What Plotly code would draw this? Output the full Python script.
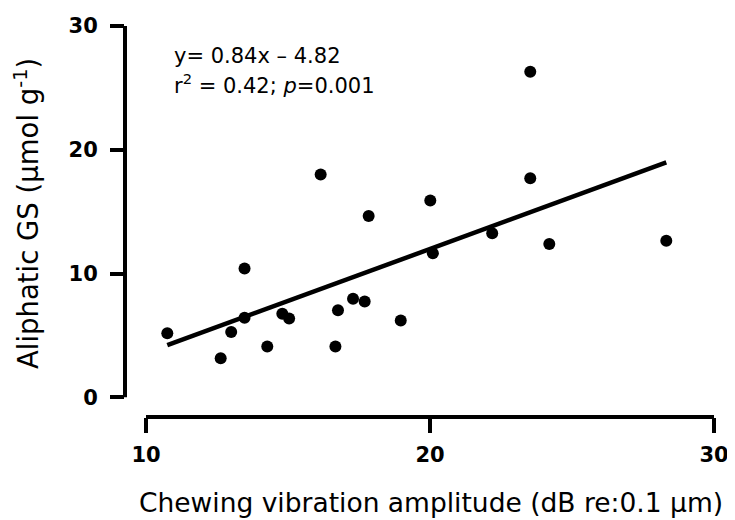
import plotly.graph_objects as go

# Data
chewing_amp = [10.75, 12.63, 13.0, 13.47, 13.47, 14.27, 14.8, 15.04, 16.15, 16.67, 16.76,
               17.29, 17.7, 17.84, 18.97, 20.01, 20.1, 22.19, 23.53, 23.53, 24.2, 28.32]
aliphatic_gs = [5.17, 3.16, 5.28, 10.4, 6.42, 4.11, 6.74, 6.36, 18.0, 4.11, 7.03,
                7.96, 7.74, 14.64, 6.2, 15.89, 11.64, 13.26, 26.3, 17.69, 12.39, 12.65]
fit_slope = 0.84
fit_intercept = -4.82
x_tick_vals = [10, 20, 30]
y_tick_vals = [0, 10, 20, 30]

X_RANGE = [9.2606, 30.211]
Y_RANGE = [-1.591, 30.477]

fit_x = [min(chewing_amp), max(chewing_amp)]
fit_y = [fit_slope * v + fit_intercept for v in fit_x]

fig = go.Figure()
fig.add_trace(go.Scatter(x=fit_x, y=fit_y, mode="lines",
                         line=dict(color="black", width=4.5), hoverinfo="skip"))
fig.add_trace(go.Scatter(x=chewing_amp, y=aliphatic_gs, mode="markers",
                         marker=dict(color="black", size=12, line=dict(width=0))))

def fx(v):
    return (v - X_RANGE[0]) / (X_RANGE[1] - X_RANGE[0])

def fy(v):
    return (v - Y_RANGE[0]) / (Y_RANGE[1] - Y_RANGE[0])

shapes = [
    dict(type="line", xref="x domain", yref="y domain",
         x0=0, x1=0, y0=fy(y_tick_vals[0]), y1=fy(y_tick_vals[-1]),
         line=dict(color="black", width=4)),
    dict(type="line", xref="x domain", yref="y domain",
         x0=fx(x_tick_vals[0]), x1=fx(x_tick_vals[-1]), y0=0, y1=0,
         line=dict(color="black", width=4)),
]

W, H = 735, 520
ML, MR, MT, MB = 117, 23, 6, 111
pw, ph = W - ML - MR, H - MT - MB

def px_to_paper_x(px):
    return (px - ML) / pw

def px_to_paper_y(py):
    return (H - MB - py) / ph

annotations = [
    dict(text="y= 0.84x \u2013 4.82", xref="paper", yref="paper",
         x=px_to_paper_x(164), y=px_to_paper_y(43), xanchor="left", yanchor="middle",
         showarrow=False, font=dict(family="DejaVu Sans", size=21, color="black")),
    dict(text="r<sup>2</sup> = 0.42; <i>p</i>=0.001", xref="paper", yref="paper",
         x=px_to_paper_x(164), y=px_to_paper_y(71), xanchor="left", yanchor="middle",
         showarrow=False, font=dict(family="DejaVu Sans", size=21, color="black")),
    dict(text="Chewing vibration amplitude (dB re:0.1 \u00b5m)", xref="paper", yref="paper",
         x=px_to_paper_x(423), y=px_to_paper_y(496), xanchor="center", yanchor="middle",
         showarrow=False, font=dict(family="DejaVu Sans", size=26.5, color="black")),
    dict(text="Aliphatic GS (\u00b5mol g<sup>-1</sup>)", xref="paper", yref="paper",
         x=px_to_paper_x(19), y=px_to_paper_y(203), xanchor="center", yanchor="middle",
         textangle=-90, showarrow=False,
         font=dict(family="DejaVu Sans", size=27.5, color="black")),
]

fig.update_layout(
    width=W, height=H, autosize=False,
    margin=dict(l=ML, r=MR, t=MT, b=MB, pad=0),
    paper_bgcolor="white", plot_bgcolor="white",
    showlegend=False,
    shapes=shapes, annotations=annotations,
    xaxis=dict(range=X_RANGE, tickvals=x_tick_vals, ticks="outside", ticklen=15,
               tickwidth=4, tickcolor="black", showgrid=False, zeroline=False,
               showline=False, ticklabelstandoff=4,
               tickfont=dict(family="DejaVu Sans", size=21, color="black", weight="bold")),
    yaxis=dict(range=Y_RANGE, tickvals=y_tick_vals, ticks="outside", ticklen=14,
               tickwidth=4, tickcolor="black", showgrid=False, zeroline=False,
               showline=False, ticklabelstandoff=8,
               tickfont=dict(family="DejaVu Sans", size=21, color="black", weight="bold")),
)

fig.write_html("out.html")
